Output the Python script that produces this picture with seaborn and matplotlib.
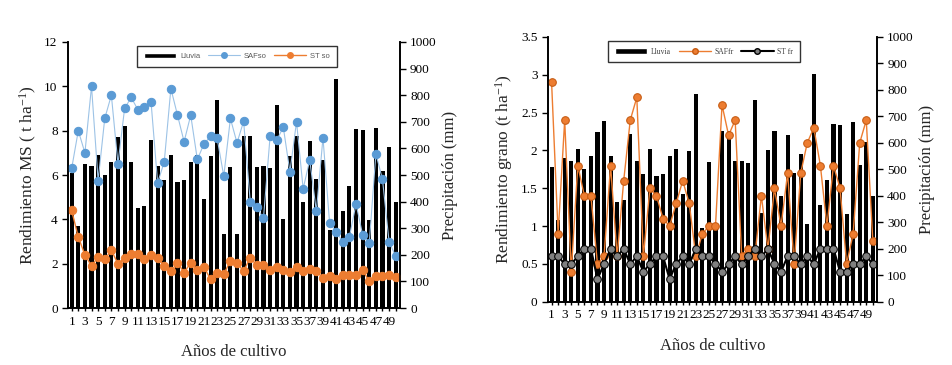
import numpy as np
import pandas as pd
import seaborn as sns
import matplotlib.pyplot as plt
from matplotlib.ticker import FuncFormatter
from matplotlib.patches import Patch
from matplotlib.lines import Line2D

# --- DATA ---
years = list(range(1, 51))
lluvia = [508, 308, 542, 533, 575, 500, 550, 642, 683, 550,
          375, 383, 633, 533, 483, 575, 475, 483, 550, 575,
          408, 570, 783, 280, 529, 280, 645, 645, 530, 533,
          525, 762, 335, 573, 645, 398, 628, 485, 557, 292,
          860, 365, 458, 672, 668, 330, 678, 515, 605, 400]

saf_so = [6.3, 8.0, 7.0, 10.0, 5.75, 8.55, 9.6, 6.5, 9.0, 9.5,
          8.95, 9.05, 9.3, 5.65, 6.6, 9.9, 8.7, 7.5, 8.7, 6.7,
          7.4, 7.75, 7.65, 5.95, 8.55, 7.45, 8.42, 4.8, 4.54, 4.04,
          7.74, 7.56, 8.16, 6.14, 8.4, 5.38, 6.68, 4.36, 7.68, 3.84,
          3.44, 2.98, 3.22, 4.7, 3.3, 2.94, 6.96, 5.8, 2.98, 2.34]
st_so = [4.4, 3.2, 2.4, 1.9, 2.3, 2.2, 2.6, 2.0, 2.25, 2.45,
         2.45, 2.2, 2.4, 2.25, 1.9, 1.65, 2.05, 1.6, 2.05, 1.7,
         1.85, 1.3, 1.6, 1.52, 2.14, 2.04, 1.66, 2.28, 1.92, 1.94,
         1.72, 1.86, 1.72, 1.62, 1.86, 1.68, 1.78, 1.66, 1.36, 1.44,
         1.3, 1.5, 1.5, 1.5, 1.72, 1.2, 1.44, 1.44, 1.5, 1.4]

saf_fr = [2.9, 0.9, 2.4, 0.4, 1.8, 1.4, 1.4, 0.5, 0.6, 1.8,
          0.6, 1.6, 2.4, 2.7, 0.6, 1.5, 1.4, 1.1, 1.0, 1.3,
          1.6, 1.3, 0.6, 0.9, 1.0, 1.0, 2.6, 2.2, 2.4, 0.6,
          0.7, 0.6, 1.4, 0.7, 1.5, 1.0, 1.7, 0.5, 1.7, 2.1,
          2.3, 1.8, 1.0, 1.8, 1.5, 0.5, 0.9, 2.1, 2.4, 0.8]
st_fr = [0.6, 0.6, 0.5, 0.5, 0.6, 0.7, 0.7, 0.3, 0.5, 0.7,
         0.6, 0.7, 0.5, 0.6, 0.4, 0.5, 0.6, 0.6, 0.3, 0.5,
         0.6, 0.5, 0.7, 0.6, 0.6, 0.5, 0.4, 0.5, 0.6, 0.5,
         0.6, 0.7, 0.6, 0.7, 0.5, 0.4, 0.6, 0.6, 0.5, 0.6,
         0.5, 0.7, 0.7, 0.7, 0.4, 0.4, 0.5, 0.5, 0.6, 0.5]

x_ticklabels = [str(y) if y % 2 == 1 else '' for y in years]

# --- STYLE ---
sns.set_style('ticks')
plt.rcParams['font.family'] = ['Liberation Serif', 'DejaVu Serif']
plt.rcParams['mathtext.fontset'] = 'custom'
plt.rcParams['mathtext.rm'] = 'Liberation Serif'
plt.rcParams['mathtext.it'] = 'Liberation Serif:italic'

fig = plt.figure(figsize=(9.53, 3.65), dpi=100)
ax_l = fig.add_axes([0.0714, 0.156, 0.348, 0.729])
ax_r = fig.add_axes([0.575, 0.173, 0.345, 0.726])


def panel(ax, ylim, yticks, ylabel, series, legend_anchor, legend_font, legend_color):
    ax2 = ax.twinx()
    sns.barplot(x=years, y=lluvia, ax=ax2, color='black', width=0.62,
                native_scale=True, saturation=1, linewidth=0)
    ax2.set_ylim(0, 1000)
    ax2.set_yticks(range(0, 1001, 100))
    ax2.set_ylabel('Precipitación (mm)', fontsize=12)

    handles = [Patch(facecolor='black', label='Lluvia')]
    for s in series:
        sns.lineplot(x=years, y=s['y'], ax=ax, color=s['line'], marker='o',
                     markersize=s['ms'], markerfacecolor=s['face'],
                     markeredgecolor=s['edge'], linewidth=s['lw'])
        handles.append(Line2D([], [], color=s['line'], marker='o', markersize=4,
                              markerfacecolor=s['face'], markeredgecolor=s['edge'],
                              linewidth=s['lw'], label=s['label']))

    ax.set_zorder(ax2.get_zorder() + 1)
    ax.patch.set_visible(False)

    ax.set_ylim(*ylim)
    ax.set_yticks(yticks)
    ax.yaxis.set_major_formatter(FuncFormatter(lambda v, p: f'{v:g}'))
    ax.set_xlim(0.45, 50.6)
    ax.set_xticks(years)
    ax.set_xticklabels(x_ticklabels)
    ax.set_xlabel('Años de cultivo', fontsize=12, labelpad=12)
    ax.set_ylabel(ylabel, fontsize=12.5)

    for a in (ax, ax2):
        a.spines['top'].set_visible(False)
        a.tick_params(labelsize=9.5, length=4, width=1, colors='black')
        for sp in a.spines.values():
            sp.set_linewidth(1.2)
            sp.set_color('black')
    ax.tick_params(axis='x', direction='inout', length=5, pad=3)

    leg = ax.legend(handles=handles, loc='upper center', bbox_to_anchor=legend_anchor,
                    ncol=3, frameon=True, fancybox=False,
                    prop={'family': legend_font, 'size': 5.5},
                    edgecolor='black', handlelength=4.2, columnspacing=1.0,
                    handletextpad=0.5, borderpad=0.9, labelcolor=legend_color)
    leg.get_frame().set_linewidth(1.0)


panel(ax_l, (0, 12), range(0, 13, 2), r'Rendimiento MS ( t ha$^{-1}$)',
      [dict(y=saf_so, label='SAFso', line='#9DC3E6', face='#5B9BD5', edge='#5B9BD5', ms=6, lw=0.8),
       dict(y=st_so, label='ST so', line='#ED7D31', face='#ED7D31', edge='#ED7D31', ms=6, lw=1.0)],
      (0.51, 1.0), 'Liberation Sans', '#595959')

panel(ax_r, (0, 3.5), np.arange(0, 3.51, 0.5), r'Rendimiento grano (t ha$^{-1}$)',
      [dict(y=saf_fr, label='SAFfr', line='#ED7D31', face='#ED7D31', edge='#C55A11', ms=5.5, lw=1.0),
       dict(y=st_fr, label='ST fr', line='black', face='#808080', edge='black', ms=5.5, lw=1.5)],
      (0.475, 1.0), 'Liberation Serif', '#404040')

fig.savefig('out.png', dpi=100)
